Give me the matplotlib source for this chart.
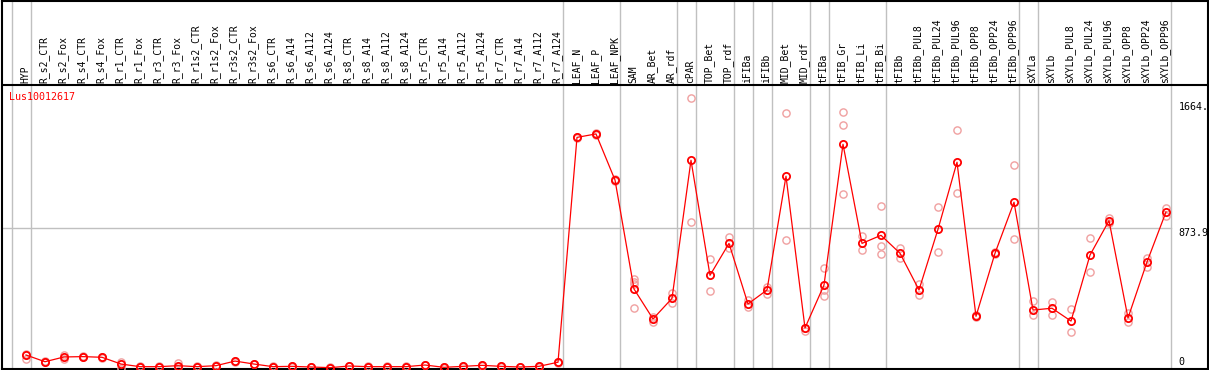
import matplotlib
matplotlib.use("Agg")
import matplotlib.pyplot as plt

samples = ["HYP", "R_s2_CTR", "R_s2_Fox", "R_s4_CTR", "R_s4_Fox", "R_r1_CTR", "R_r1_Fox",
           "R_r3_CTR", "R_r3_Fox", "R_r1s2_CTR", "R_r1s2_Fox", "R_r3s2_CTR", "R_r3s2_Fox",
           "R_s6_CTR", "R_s6_A14", "R_s6_A112", "R_s6_A124", "R_s8_CTR", "R_s8_A14",
           "R_s8_A112", "R_s8_A124", "R_r5_CTR", "R_r5_A14", "R_r5_A112", "R_r5_A124",
           "R_r7_CTR", "R_r7_A14", "R_r7_A112", "R_r7_A124", "LEAF_N", "LEAF_P", "LEAF_NPK",
           "SAM", "AR_Bet", "AR_rdf", "cPAR", "TOP_Bet", "TOP_rdf", "iFIBa", "iFIBb",
           "MID_Bet", "MID_rdf", "tFIBa", "tFIB_Gr", "tFIB_Li", "tFIB_Bi", "tFIBb",
           "tFIBb_PUL8", "tFIBb_PUL24", "tFIBb_PUL96", "tFIBb_OPP8", "tFIBb_OPP24",
           "tFIBb_OPP96", "sXYLa", "sXYLb", "sXYLb_PUL8", "sXYLb_PUL24", "sXYLb_PUL96",
           "sXYLb_OPP8", "sXYLb_OPP24", "sXYLb_OPP96"]

means = [104, 63, 92, 94, 90, 49, 33, 33, 39, 33, 39, 67, 49, 33, 35, 31, 27, 37, 33, 33, 33,
         43, 29, 35, 41, 35, 31, 35, 60, 1426, 1447, 1167, 505, 323, 448, 1287, 588, 782,
         414, 499, 1190, 268, 529, 1384, 782, 831, 722, 499, 868, 1275, 339, 722, 1032,
         377, 388, 310, 711, 920, 329, 669, 973]

replicates = [[110, 78], [60, 66], [101, 80], [96, 92], [88, 92], [63, 25], [35, 31], [35, 31],
              [53, 30], [35, 31], [41, 37], [70, 64], [51, 47], [35, 31], [37, 33], [33, 29],
              [29, 25], [39, 35], [35, 31], [35, 31], [35, 31], [45, 41], [31, 27], [37, 33],
              [43, 39], [37, 33], [33, 29], [37, 33], [62, 58], [1430, 1422], [1451, 1443],
              [1171, 1163], [566, 546, 533, 388], [337, 306], [479, 422], [1663, 910],
              [685, 493], [823, 752], [438, 397], [519, 473], [1572, 801], [268, 252],
              [631, 499, 462], [1578, 1501, 1080], [827, 740], [1007, 766, 717], [754, 695],
              [533, 467], [1001, 728], [1469, 1086], [345, 333], [728, 716], [1256, 807],
              [432, 349], [426, 345], [383, 242], [815, 608], [934, 908], [357, 303],
              [695, 640], [995, 950]]

group_bounds = [-1, 0, 28, 31, 34, 35, 37, 38, 39, 41, 42, 45, 52, 53, 60]
gene = "Lus10012617"
scale_labels = ["1664.", "873.9", "0"]
scale_values = [1664, 873.9, 0]

W, H = 1209, 370
fig = plt.figure(figsize=(W / 100, H / 100), dpi=100)
ax = fig.add_axes([1.5 / W, 0.7 / H, 1206.2 / W, 368.8 / H])

def v_of(py):
    return (372.1 - py) / 0.1646

x = list(range(len(samples)))
ax.set_xlim((1.5 - 26) / 19, (1207.7 - 26) / 19)
ax.set_ylim(v_of(369.3), v_of(0.5))
ax.set_xticks([])
ax.set_yticks([])
for s in ax.spines.values():
    s.set_color("black")
    s.set_linewidth(1.5)

grid_c = "#c0c0c0"
for b in group_bounds:
    ax.axvline(b + 0.25, color=grid_c, lw=1, zorder=1)
ax.plot([ax.get_xlim()[0], 60.25], [873.9, 873.9], color=grid_c, lw=1, zorder=1)
ax.axhline(v_of(85), color="black", lw=1.5, zorder=2)

mono = "DejaVu Sans Mono"
for xi, lab in zip(x, samples):
    ax.text(xi - 0.05, v_of(83), lab, rotation=90, ha="center", va="bottom",
            fontsize=7, family=mono, color="black", zorder=3)

for xi, reps in zip(x, replicates):
    ax.plot([xi] * len(reps), reps, linestyle="none", marker="o", ms=5.2,
            mfc="none", mec="#f0a0a0", mew=1.0, zorder=4)

ax.plot(x, means, color="red", lw=0.9, zorder=5)
ax.plot(x, means, linestyle="none", marker="o", ms=5.2, mfc="none", mec="red",
        mew=1.3, zorder=6)

ax.text((9.5 - 26) / 19, v_of(97.3), gene, color="red", fontsize=7.2, family=mono,
        ha="left", va="center", zorder=7)

label_y = [107, 233, 362]
for lab, py in zip(scale_labels, label_y):
    ax.text((1178.3 - 26) / 19, v_of(py), lab, color="black", fontsize=7.2, family=mono,
            ha="left", va="center", zorder=7)

fig.savefig("out.png", dpi=100)
